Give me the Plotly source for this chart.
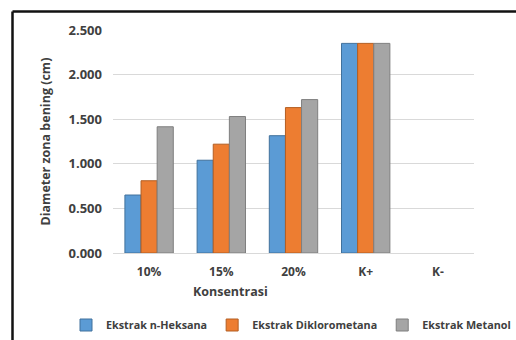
import plotly.graph_objects as go

categories = ["10%", "15%", "20%", "K+", "K-"]
heksana = [0.65, 1.04, 1.315, 2.35, 0]
diklorometana = [0.81, 1.22, 1.63, 2.35, 0]
metanol = [1.415, 1.53, 1.72, 2.35, 0]
series_names = ["Ekstrak n-Heksana", "Ekstrak Diklorometana", "Ekstrak Metanol"]
y_ticks = [0, 0.5, 1.0, 1.5, 2.0, 2.5]

colors = ["#5B9BD5", "#ED7D31", "#A5A5A5"]
outlines = ["#41719C", "#B35E22", "#7F7F7F"]
FONT = "Open Sans"
TXT = "#404040"

fig = go.Figure()
for name, vals, c, o in zip(series_names, [heksana, diklorometana, metanol], colors, outlines):
    fig.add_trace(go.Bar(x=categories, y=vals, name=name,
                         marker=dict(color=c, line=dict(color=o, width=[1 if v else 0 for v in vals]))))

W, H = 516, 340
L, R, T, B = 113, 474, 30, 253
fig.update_layout(
    width=W, height=H,
    margin=dict(l=L, r=W - R, t=T, b=H - B, autoexpand=False),
    paper_bgcolor="white", plot_bgcolor="white",
    barmode="group", bargap=0.33, bargroupgap=0,
    font=dict(family=FONT, size=11, color=TXT),
    showlegend=True,
    legend=dict(orientation="h", xref="paper", yref="paper",
                x=(66 - L) / (R - L), xanchor="left", y=(B - 325) / (B - T), yanchor="middle",
                font=dict(family=FONT, size=10.8, color=TXT, weight="bold"),
                itemwidth=30, tracegroupgap=0),
    xaxis=dict(showgrid=False, showline=True, linecolor="#D9D9D9", linewidth=1,
               tickfont=dict(family=FONT, size=12, color=TXT, weight="bold"),
               ticks="", ticklabelstandoff=8),
    yaxis=dict(range=[0, 2.5], tickvals=y_ticks, tickformat=".3f",
               showgrid=True, gridcolor="#D9D9D9", gridwidth=1, zeroline=False,
               tickfont=dict(family=FONT, size=13, color=TXT, weight="bold"),
               ticks="", ticklabelstandoff=10),
)

fig.add_annotation(text="Diameter zona bening (cm)", xref="paper", yref="paper",
                   x=(45 - L) / (R - L), y=0.5, xanchor="center", yanchor="middle",
                   textangle=-90, showarrow=False,
                   font=dict(family=FONT, size=12.5, color=TXT, weight="bold"))
fig.add_annotation(text="Konsentrasi", xref="paper", yref="paper",
                   x=(230 - L) / (R - L), y=(B - 291) / (B - T), xanchor="center", yanchor="middle",
                   showarrow=False,
                   font=dict(family=FONT, size=12.5, color=TXT, weight="bold"))

# outer frame: only the left and top edges are visible in the crop
fx = (12.5 - L) / (R - L)
fy = (B - 11.5) / (B - T)
fig.add_shape(type="line", xref="paper", yref="paper", x0=fx, x1=(520 - L) / (R - L), y0=fy, y1=fy,
              line=dict(color="#111111", width=2.5), layer="above")
fig.add_shape(type="line", xref="paper", yref="paper", x0=fx, x1=fx, y0=fy, y1=(B - 345) / (B - T),
              line=dict(color="#111111", width=2.5), layer="above")

fig.write_html("out.html")
